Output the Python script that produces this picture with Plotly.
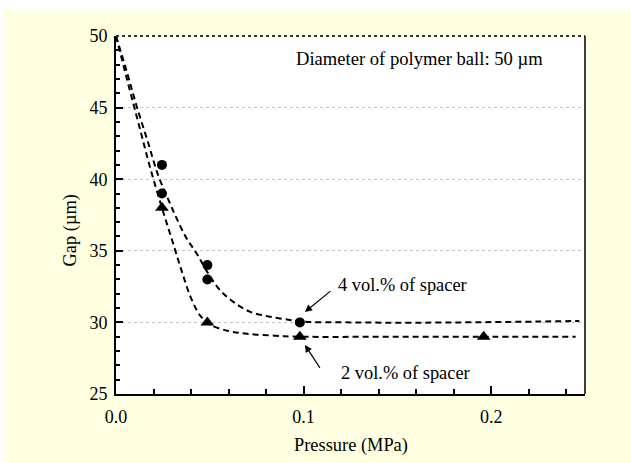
import plotly.graph_objects as go

# Measured data points
p4_x = [0.0245, 0.0245, 0.0487, 0.0487, 0.098]
p4_y = [41, 39, 34, 33, 30]
p2_x = [0.0245, 0.0487, 0.098, 0.196]
p2_y = [38, 30, 29, 29]

# Dashed fitted curves
c4_x = [0, 0.006, 0.011, 0.017, 0.0224, 0.0275, 0.0322, 0.0375, 0.0429, 0.0491, 0.0553,
        0.0624, 0.0713, 0.082, 0.0927, 0.1, 0.125, 0.15, 0.175, 0.2, 0.225, 0.247]
c4_y = [50, 47.4, 45.1, 42.6, 40.3, 38.7, 37.3, 35.9, 34.83, 33.43, 32.27,
        31.45, 30.75, 30.4, 30.17, 30.05, 30.0, 29.98, 29.99, 30.02, 30.06, 30.1]
c2_x = [0, 0.006, 0.012, 0.018, 0.0245, 0.030, 0.035, 0.040, 0.045, 0.050, 0.060,
        0.070, 0.085, 0.098, 0.15, 0.20, 0.245]
c2_y = [50, 46.9, 43.9, 40.9, 38.0, 35.7, 33.6, 31.7, 30.45, 29.85, 29.4,
        29.2, 29.07, 29.0, 29.0, 29.0, 29.0]

x_major_step = 0.1
y_major_step = 5

FONT = "Liberation Serif, Times New Roman, serif"
YELLOW = "#FFFFE1"

fig = go.Figure()
fig.add_trace(go.Scatter(x=c4_x, y=c4_y, mode="lines", line=dict(color="black", width=2, dash="6px,4px", shape="spline"), showlegend=False, hoverinfo="skip"))
fig.add_trace(go.Scatter(x=c2_x, y=c2_y, mode="lines", line=dict(color="black", width=2, dash="6px,4px", shape="spline"), showlegend=False, hoverinfo="skip"))
fig.add_trace(go.Scatter(x=p4_x, y=p4_y, mode="markers", marker=dict(symbol="circle", size=10, color="black"), showlegend=False))
fig.add_trace(go.Scatter(x=p2_x, y=p2_y, mode="markers", marker=dict(symbol="triangle-up", size=12, color="black"), showlegend=False))

shapes = [
    dict(type="rect", xref="paper", yref="paper", x0=-0.2388, x1=1.2, y0=-0.3, y1=1.0754,
         fillcolor=YELLOW, line=dict(width=0), layer="below"),
    dict(type="rect", xref="x domain", yref="y domain", x0=0, x1=1, y0=0, y1=1,
         fillcolor="white", line=dict(width=0), layer="below"),
    dict(type="line", xref="x domain", yref="y domain", x0=0, x1=1, y0=1, y1=1,
         line=dict(color="#333333", width=2, dash="dot"), layer="above"),
    dict(type="line", xref="x domain", yref="y domain", x0=1, x1=1, y0=0, y1=1,
         line=dict(color="black", width=1.5), layer="above"),
]

annotations = [
    dict(x=0.0948, y=48.42, xref="x", yref="y", text="Diameter of polymer ball: 50 µm",
         showarrow=False, xanchor="left", yanchor="middle", font=dict(size=18.6)),
    dict(x=0.1173, y=32.61, xref="x", yref="y", text="4 vol.% of spacer",
         showarrow=False, xanchor="left", yanchor="middle", font=dict(size=18.4)),
    dict(x=0.1188, y=26.5, xref="x", yref="y", text="2 vol.% of spacer",
         showarrow=False, xanchor="left", yanchor="middle", font=dict(size=18.4)),
    dict(x=0.1007, y=30.73, ax=0.1151, ay=32.27, xref="x", yref="y", axref="x", ayref="y",
         text="", showarrow=True, arrowhead=2, arrowsize=1.2, arrowwidth=1.2, arrowcolor="black"),
    dict(x=0.1007, y=28.43, ax=0.1092, ay=26.72, xref="x", yref="y", axref="x", ayref="y",
         text="", showarrow=True, arrowhead=2, arrowsize=1.2, arrowwidth=1.2, arrowcolor="black"),
    dict(x=-0.0972, y=0.458, xref="paper", yref="paper", text="Gap (µm)", textangle=-90,
         showarrow=False, xanchor="center", yanchor="middle", font=dict(size=18.4)),
    dict(x=0.5, y=-0.145, xref="paper", yref="paper", text="Pressure (MPa)",
         showarrow=False, xanchor="center", yanchor="middle", font=dict(size=18.4)),
]

fig.update_layout(
    width=631, height=463,
    margin=dict(l=116, r=46, t=36, b=69, autoexpand=False),
    paper_bgcolor="white", plot_bgcolor="white",
    font=dict(family=FONT, size=18, color="black"),
    shapes=shapes, annotations=annotations,
    xaxis=dict(range=[0, 0.25], tickmode="linear", tick0=0, dtick=x_major_step, tickformat=".1f",
               ticks="inside", ticklen=8, tickwidth=1.5, tickcolor="black",
               showline=True, linecolor="black", linewidth=2,
               showgrid=False, zeroline=False, ticklabelstandoff=5,
               minor=dict(dtick=0.02, tick0=0, ticks="inside", ticklen=5, tickwidth=1.5,
                          tickcolor="black", showgrid=False)),
    yaxis=dict(range=[25, 50], tickmode="linear", tick0=25, dtick=y_major_step,
               ticks="inside", ticklen=7, tickwidth=1.5, tickcolor="black",
               showline=True, linecolor="black", linewidth=2,
               showgrid=True, gridcolor="#C4C4C4", griddash="dot", gridwidth=1, zeroline=False,
               ticklabelstandoff=3,
               minor=dict(dtick=1, tick0=25, ticks="inside", ticklen=4, tickwidth=1.5,
                          tickcolor="black", showgrid=False)),
)

fig.write_html("out.html")
